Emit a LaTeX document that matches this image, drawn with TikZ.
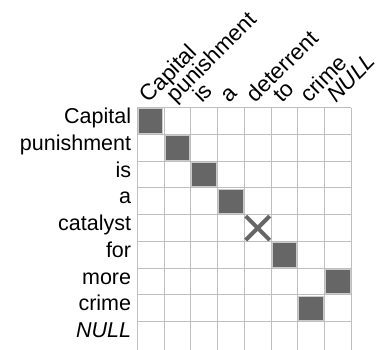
\documentclass[tikz,border=0pt]{standalone}
\usepackage{fontspec}
\setmainfont{Liberation Sans}
\usepackage{tikz}
\usetikzlibrary{shapes.misc}

\definecolor{hitgray}{RGB}{102,102,102}
\definecolor{linegray}{RGB}{190,190,190}

\tikzset{
    gridline/.style={draw=linegray, line width=1pt},
    hit/.style={draw=linegray!80, line width=1pt, fill=hitgray, minimum size=24.5pt, inner sep=0},
    rowword/.style={inner sep=0, anchor=mid east, font=\fontsize{21.5}{25}\selectfont},
    colword/.style={inner sep=0, rotate=45, anchor=base west, font=\fontsize{22.5}{27}\selectfont},
}

\begin{document}
\begin{tikzpicture}[x=1pt, y=-1pt]
        \useasboundingbox (0, 0) rectangle (379, 349);
        \def\cs{26.75}

        \begin{scope}[shift={(137.3, 107.7)}]
            % grid
            \foreach \i in {0,...,8} {
                \draw[gridline] (\i*\cs, 0) -- (\i*\cs, 250);
            }
            \foreach \j in {0,...,8} {
                \draw[gridline] (0, \j*\cs) -- (8*\cs, \j*\cs);
            }

            % row words
            \node (row1) at (-6, 0.5*\cs)[rowword] {Capital};
            \node (row2) at (-6, 1.5*\cs)[rowword] {punishment};
            \node (row3) at (-6, 2.5*\cs)[rowword] {is};
            \node (row4) at (-6, 3.5*\cs)[rowword] {a};
            \node (row5) at (-6, 4.5*\cs)[rowword] {catalyst};
            \node (row6) at (-6, 5.5*\cs)[rowword] {for};
            \node (row7) at (-6, 6.5*\cs)[rowword] {more};
            \node (row8) at (-6, 7.5*\cs)[rowword] {crime};
            \node (row9) at (-6, 8.5*\cs)[rowword] {\itshape NULL};

            % column words
            \node (col1) at (0.5*\cs - 2, -4)[colword] {Capital};
            \node (col2) at (1.5*\cs - 2, -4)[colword] {punishment};
            \node (col3) at (2.5*\cs - 2, -4)[colword] {is};
            \node (col4) at (3.5*\cs - 2, -4)[colword] {a};
            \node (col5) at (4.5*\cs - 2, -4)[colword] {deterrent};
            \node (col6) at (5.5*\cs - 2, -4)[colword] {to};
            \node (col7) at (6.5*\cs - 2, -4)[colword] {crime};
            \node (col8) at (7.5*\cs - 2, -4)[colword] {\itshape NULL};

            % alignments
            \node (hit11) at (0.5*\cs, 0.5*\cs)[hit] {};
            \node (hit22) at (1.5*\cs, 1.5*\cs)[hit] {};
            \node (hit33) at (2.5*\cs, 2.5*\cs)[hit] {};
            \node (hit44) at (3.5*\cs, 3.5*\cs)[hit] {};
            \node (miss55) at (4.5*\cs, 4.5*\cs)[cross out, draw=hitgray, line width=4pt, minimum size=20pt, inner sep=0] {};
            \node (hit66) at (5.5*\cs, 5.5*\cs)[hit] {};
            \node (hit78) at (7.5*\cs, 6.5*\cs)[hit] {};
            \node (hit87) at (6.5*\cs, 7.5*\cs)[hit] {};
        \end{scope}
    \end{tikzpicture}
\end{document}
